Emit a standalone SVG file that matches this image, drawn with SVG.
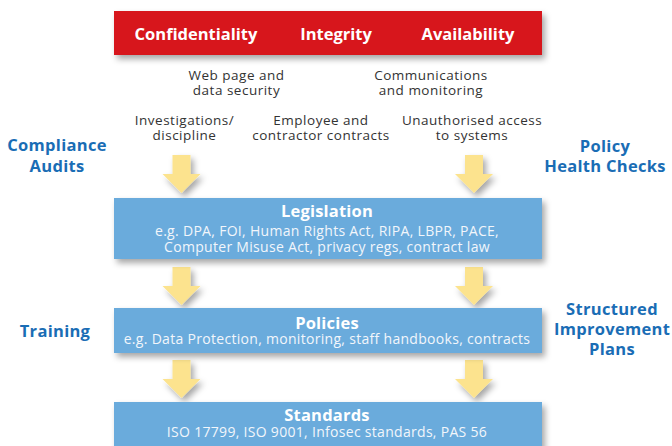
<svg xmlns="http://www.w3.org/2000/svg" width="672" height="446" viewBox="0 0 672 446">
<defs>
<filter id="sh" x="-10%" y="-30%" width="130%" height="180%">
<feDropShadow dx="3" dy="4" stdDeviation="3" flood-color="#000" flood-opacity="0.35"/>
</filter>
<path id="arr" d="M-9,0 H9 V19 H19 L0,38 L-19,19 H-9 Z"/>
</defs>
<style>
.red{fill:#d7161f;filter:url(#sh)}
.blue{fill:#6aabdc;filter:url(#sh)}
.arrow{fill:#fce38e;filter:url(#sh)}
.h{font-family:"Open Sans","Noto Sans",sans-serif;font-weight:bold;fill:#fff;text-anchor:middle}
.hr{font-size:16.5px}
.hb{font-size:16.5px;letter-spacing:0.2px}
.sub{font-family:"Open Sans","Noto Sans",sans-serif;font-size:14px;letter-spacing:0.3px;fill:#f2f6fb;text-anchor:middle}
.g{font-family:"Open Sans","Noto Sans",sans-serif;font-size:13.5px;letter-spacing:0.5px;fill:#333;text-anchor:middle}
.side{font-family:"Open Sans","Noto Sans",sans-serif;font-weight:bold;font-size:16.5px;letter-spacing:0.3px;fill:#1a6db5;text-anchor:middle}
</style>
<rect width="672" height="446" fill="#fff"/>
<g id="connectors">
<use href="#arr" class="arrow" x="181.5" y="155"/>
<use href="#arr" class="arrow" x="474" y="155"/>
<use href="#arr" class="arrow" x="181.5" y="267"/>
<use href="#arr" class="arrow" x="474" y="267"/>
<use href="#arr" class="arrow" x="181.5" y="360"/>
<use href="#arr" class="arrow" x="474" y="360"/>
</g>
<g id="cia">
<rect class="red" x="114" y="11" width="428" height="44"/>
<text class="h hr" x="196" y="40">Confidentiality</text>
<text class="h hr" x="336" y="40">Integrity</text>
<text class="h hr" x="468" y="40">Availability</text>
</g>
<g id="web">
<text class="g" x="236.5" y="80">Web page and</text>
<text class="g" x="236.5" y="95">data security</text>
</g>
<g id="comms">
<text class="g" x="431" y="80">Communications</text>
<text class="g" x="431" y="95">and monitoring</text>
</g>
<g id="invest">
<text class="g" x="184.5" y="124.5">Investigations/</text>
<text class="g" x="184.5" y="139.5">discipline</text>
</g>
<g id="employee">
<text class="g" x="321" y="124.5">Employee and</text>
<text class="g" x="321" y="139.5">contractor contracts</text>
</g>
<g id="unauth">
<text class="g" x="472" y="124.5">Unauthorised access</text>
<text class="g" x="472" y="139.5">to systems</text>
</g>
<g id="compliance">
<text class="side" x="57" y="151">Compliance</text>
<text class="side" x="57" y="171.5">Audits</text>
</g>
<g id="healthchecks">
<text class="side" x="605" y="151.5">Policy</text>
<text class="side" x="605" y="171.5">Health Checks</text>
</g>
<g id="training">
<text class="side" x="55" y="336.5">Training</text>
</g>
<g id="improvement">
<text class="side" x="612" y="314.5">Structured</text>
<text class="side" x="612" y="335">Improvement</text>
<text class="side" x="612" y="355">Plans</text>
</g>
<g id="legislation">
<rect class="blue" x="114" y="198" width="428" height="61"/>
<text class="h hb" x="327" y="216.5">Legislation</text>
<text class="sub" x="327" y="235.5">e.g. DPA, FOI, Human Rights Act, RIPA, LBPR, PACE,</text>
<text class="sub" x="327" y="251.5">Computer Misuse Act, privacy regs, contract law</text>
</g>
<g id="policies">
<rect class="blue" x="114" y="308" width="428" height="45"/>
<text class="h hb" x="327" y="328.5">Policies</text>
<text class="sub" x="327" y="344">e.g. Data Protection, monitoring, staff handbooks, contracts</text>
</g>
<g id="standards">
<rect class="blue" x="114" y="402" width="428" height="60"/>
<text class="h hb" x="327" y="420.5">Standards</text>
<text class="sub" x="327" y="436.5">ISO 17799, ISO 9001, Infosec standards, PAS 56</text>
</g>
</svg>
